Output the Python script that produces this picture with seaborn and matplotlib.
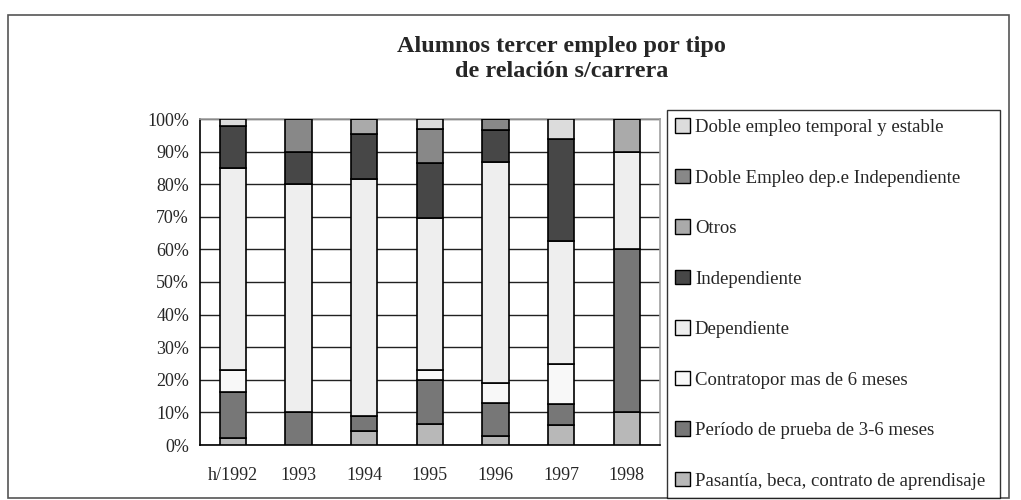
import numpy as np
import pandas as pd
import matplotlib
matplotlib.use("Agg")
import matplotlib.pyplot as plt
import seaborn as sns
from matplotlib.patches import Patch, Rectangle

# datos (porcentajes por año)
anios = ["h/1992", "1993", "1994", "1995", "1996", "1997", "1998"]
pasantia = [2.0, 0.0, 4.3, 6.4, 2.8, 6.25, 10.0]
periodo = [14.4, 10.0, 4.6, 13.6, 10.0, 6.25, 50.0]
contrato = [6.6, 0.0, 0.0, 3.0, 6.1, 12.5, 0.0]
dependiente = [62.0, 70.0, 72.7, 46.6, 67.9, 37.5, 30.0]
independiente = [12.7, 10.0, 13.9, 16.9, 9.9, 31.25, 0.0]
otros = [0.0, 0.0, 4.5, 0.0, 0.0, 0.0, 10.0]
doble_dep = [0.0, 10.0, 0.0, 10.4, 3.3, 0.0, 0.0]
doble_temp = [2.3, 0.0, 0.0, 3.1, 0.0, 6.25, 0.0]

series = [
    ("Pasantía, beca, contrato de aprendisaje", pasantia, "#b8b8b8"),
    ("Período de prueba de 3-6 meses", periodo, "#777777"),
    ("Contratopor mas de 6 meses", contrato, "#f8f8f8"),
    ("Dependiente", dependiente, "#eeeeee"),
    ("Independiente", independiente, "#474747"),
    ("Otros", otros, "#aaaaaa"),
    ("Doble Empleo dep.e Independiente", doble_dep, "#888888"),
    ("Doble empleo temporal y estable", doble_temp, "#dcdcdc"),
]

sns.set_style("white")
plt.rcParams["font.family"] = ["Liberation Serif", "DejaVu Serif"]

fig = plt.figure(figsize=(10.21, 5.0), dpi=100)
ax = fig.add_axes([0.196, 0.11, 0.45, 0.652])

base = np.zeros(len(anios))
handles = []
for nombre, valores, color in series:
    df = pd.DataFrame({"anio": anios, "valor": valores})
    sns.barplot(data=df, x="anio", y="valor", color=color, width=0.4,
                bottom=base, edgecolor="black", linewidth=1.2,
                saturation=1, ax=ax, zorder=3)
    base = base + np.array(valores)
    handles.append(Patch(facecolor=color, edgecolor="black", linewidth=1.0, label=nombre))

ax.set_xlim(-0.5, len(anios) - 0.5)
ax.set_ylim(0, 100)
ax.set_yticks(np.arange(0, 101, 10))
ax.set_yticklabels([f"{v}%" for v in range(0, 101, 10)], fontsize=13)
ax.set_xticks(range(len(anios)))
ax.set_xticklabels(anios, fontsize=13)
ax.set_xticks(np.arange(-0.5, len(anios), 1), minor=True)
ax.tick_params(axis="x", which="major", length=0, pad=16)
ax.tick_params(axis="x", which="minor", length=5, width=1, color="black", direction="out")
ax.tick_params(axis="y", length=5, width=1, color="black", direction="out", pad=3)
ax.set_xlabel("")
ax.set_ylabel("")
ax.grid(axis="y", color="#222222", linewidth=1.0, zorder=0)
ax.set_axisbelow(True)
for lado in ["left", "bottom"]:
    ax.spines[lado].set_color("black")
    ax.spines[lado].set_linewidth(1.2)
for lado in ["top", "right"]:
    ax.spines[lado].set_color("#a0a0a0")
    ax.spines[lado].set_linewidth(1.2)

fig.text(0.55, 0.882, "Alumnos tercer empleo por tipo\nde relación s/carrera",
         ha="center", va="center", fontsize=17.5, fontweight="bold", linespacing=1.2)

leg = fig.legend(handles=handles[::-1], loc="upper left",
                 bbox_to_anchor=(0.653, 0.016, 0.326, 0.764), mode="expand",
                 frameon=True, fancybox=False, edgecolor="black",
                 fontsize=13.5, handlelength=0.8, handleheight=0.8,
                 handletextpad=0.25, labelspacing=1.75, borderpad=0.45,
                 borderaxespad=0)
leg.get_frame().set_linewidth(1.0)

fig.patches.append(Rectangle((0.008, 0.004), 0.98, 0.966, transform=fig.transFigure,
                             fill=False, edgecolor="#555555", linewidth=1.2))

fig.savefig("out.png", dpi=100)
